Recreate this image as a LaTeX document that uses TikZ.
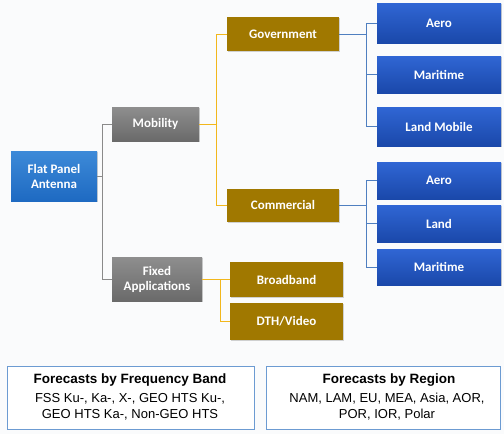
\documentclass[tikz,border=0pt]{standalone}
\usepackage{fontspec}
\setmainfont{Carlito}
\newfontfamily\arialf{Liberation Sans}
\usetikzlibrary{shadows}
\definecolor{bgc}{HTML}{FAFBFC}
\definecolor{goldc}{HTML}{A07800}
\definecolor{goldl}{HTML}{F2B71C}
\definecolor{blueline}{HTML}{4F7FC0}
\definecolor{grayline}{HTML}{8A8A8A}
\definecolor{bordc}{HTML}{6C9BD2}
\definecolor{rootT}{HTML}{3D8AD8}
\definecolor{rootB}{HTML}{1E6AC2}
\definecolor{blueT}{HTML}{3066D4}
\definecolor{blueB}{HTML}{1A48AA}
\definecolor{grayT}{HTML}{8E8E8E}
\definecolor{grayB}{HTML}{6A6A6A}
\begin{document}
\begin{tikzpicture}[x=1pt,y=-1pt,
  base/.style={inner sep=0pt,align=center,text=white,font=\bfseries\fontsize{13}{15}\selectfont,
    drop shadow={shadow xshift=1.2pt,shadow yshift=-1.2pt,opacity=0.35}},
  rootbox/.style={base,top color=rootT,bottom color=rootB},
  graybox/.style={base,top color=grayT,bottom color=grayB},
  goldbox/.style={base,fill=goldc},
  bluebox/.style={base,top color=blueT,bottom color=blueB},
  fcbox/.style={draw=bordc,line width=0.8pt,fill=white,inner sep=0pt},
  gline/.style={grayline,line width=0.8pt},
  yline/.style={goldl,line width=1pt},
  bline/.style={blueline,line width=0.9pt}]
\fill[bgc] (0,0) rectangle (504,434);
\useasboundingbox (0,0) rectangle (504,434);
% nodes
\node[rootbox,minimum width=86pt,minimum height=50pt] (fpa) at (54,176) {Flat Panel\\Antenna};
\node[graybox,minimum width=87pt,minimum height=34pt] (mob) at (155.5,124) {Mobility};
\node[graybox,minimum width=90pt,minimum height=44pt] (fix) at (157,279) {Fixed\\Applications};
\node[goldbox,minimum width=112pt,minimum height=34pt] (gov) at (283,34) {Government};
\node[goldbox,minimum width=112pt,minimum height=33pt] (com) at (283,205) {Commercial};
\node[goldbox,minimum width=113pt,minimum height=35pt] (brd) at (286.5,279.5) {Broadband};
\node[goldbox,minimum width=113pt,minimum height=37pt] (dth) at (286.5,321.5) {DTH/Video};
\node[bluebox,minimum width=124pt,minimum height=40pt] (ga) at (439,23) {Aero};
\node[bluebox,minimum width=124pt,minimum height=37pt] (gm) at (439,74.5) {Maritime};
\node[bluebox,minimum width=124pt,minimum height=39pt] (gl) at (439,126.5) {Land Mobile};
\node[bluebox,minimum width=124pt,minimum height=37pt] (ca) at (439,180.5) {Aero};
\node[bluebox,minimum width=124pt,minimum height=37pt] (cl) at (439,223.5) {Land};
\node[bluebox,minimum width=124pt,minimum height=36pt] (cm) at (439,267) {Maritime};
% connectors
\coordinate (j1) at (102,0);
\draw[gline] (fpa.east) -- (fpa.east -| j1);
\draw[gline] (mob.west) -| (j1 |- fix.west) -- (fix.west);
\coordinate (j2) at (216,0);
\draw[yline] (mob.east) -- (mob.east -| j2);
\draw[yline] (gov.west) -| (j2 |- com.west) -- (com.west);
\coordinate (j3) at (220,0);
\draw[yline] (fix.east) -- (fix.east -| j3);
\draw[yline] (brd.west) -| (j3 |- dth.west) -- (dth.west);
\coordinate (j4) at (366,0);
\draw[bline] (gov.east) -- (gov.east -| j4);
\draw[bline] (ga.west) -| (j4 |- gl.west) -- (gl.west);
\draw[bline] (gm.west) -- (gm.west -| j4);
\draw[bline] (com.east) -- (com.east -| j4);
\draw[bline] (ca.west) -| (j4 |- cm.west) -- (cm.west);
\draw[bline] (cl.west) -- (cl.west -| j4);
% bottom boxes
\node[fcbox,minimum width=247pt,minimum height=63pt] (fb) at (130.5,397.5) {};
\node[fcbox,minimum width=234pt,minimum height=63pt] (fr) at (383,397.5) {};
\node[font=\arialf\bfseries\fontsize{13.5}{15}\selectfont] (fbt) at (130,380) {Forecasts by Frequency Band};
\node[font=\arialf\fontsize{13}{16}\selectfont,align=center] (fbb) at (130,407) {FSS Ku-, Ka-, X-, GEO HTS Ku-,\\GEO HTS Ka-, Non-GEO HTS};
\node[font=\arialf\bfseries\fontsize{13.5}{15}\selectfont] (frt) at (389,380) {Forecasts by Region};
\node[font=\arialf\fontsize{13}{16}\selectfont,align=center] (frb) at (387,407) {NAM, LAM, EU, MEA, Asia, AOR,\\POR, IOR, Polar};
\end{tikzpicture}
\end{document}
